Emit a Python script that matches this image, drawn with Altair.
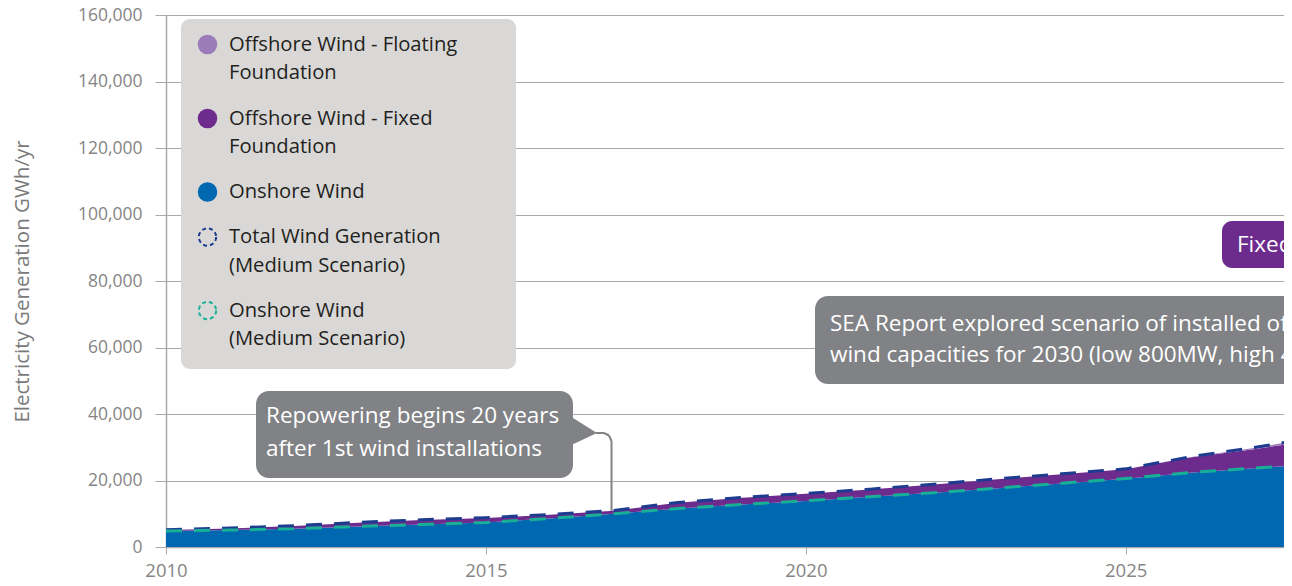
import altair as alt
import pandas as pd

# ---------------- data (GWh/yr, thousands) ----------------
years = list(range(2010, 2029))
onshore = [4.8, 5.1, 5.5, 6.2, 6.8, 7.4, 8.6, 10.0, 11.6, 12.8, 13.8, 15.1, 16.3, 17.7, 19.1, 20.5, 22.3, 23.7, 25.0]
offshore_fixed = [0.3, 0.5, 0.8, 1.1, 1.3, 1.3, 1.1, 0.9, 1.7, 2.0, 2.2, 2.2, 2.5, 2.7, 2.8, 2.9, 4.6, 5.7, 7.2]
offshore_floating = [0, 0, 0, 0, 0, 0, 0, 0, 0, 0, 0, 0, 0, 0, 0, 0, 0.1, 0.4, 0.8]
total_medium = [5.2, 5.7, 6.4, 7.4, 8.2, 8.8, 9.8, 11.0, 13.4, 14.9, 16.1, 17.4, 18.9, 20.5, 22.0, 23.5, 27.1, 29.9, 33.1]
onshore_medium = [4.8, 5.1, 5.5, 6.2, 6.8, 7.4, 8.6, 10.0, 11.6, 12.8, 13.9, 15.1, 16.3, 17.7, 19.2, 20.6, 22.4, 23.7, 25.0]

area_series = ["Onshore Wind", "Offshore Wind - Fixed Foundation", "Offshore Wind - Floating Foundation"]
area_colors = ["#0067b1", "#6d2b8e", "#a07dbd"]
line_series = ["Total Wind Generation (Medium Scenario)", "Onshore Wind (Medium Scenario)"]
line_colors = ["#1d3c8f", "#17b097"]

y_ticks = [0, 20000, 40000, 60000, 80000, 100000, 120000, 140000, 160000]
x_ticks = [2010, 2015, 2020, 2025]

legend_entries = [
    ("Offshore Wind - Floating", "Foundation", "#9b7bb8", "fill"),
    ("Offshore Wind - Fixed", "Foundation", "#6d2b8e", "fill"),
    ("Onshore Wind", None, "#0067b1", "fill"),
    ("Total Wind Generation", "(Medium Scenario)", "#1d3c8f", "dash"),
    ("Onshore Wind", "(Medium Scenario)", "#17b097", "dash"),
]

note_repower = ["Repowering begins 20 years", "after 1st wind installations"]
note_sea = ["SEA Report explored scenario of  installed offshore",
            "wind capacities for 2030 (low 800MW, high 4500MW)"]
note_fixed = "Fixed Foundation"

# ---------------- tables ----------------
series_vals = [onshore, offshore_fixed, offshore_floating]
area_rows = []
for k, name in enumerate(area_series):
    for i, yr in enumerate(years):
        area_rows.append({"year": yr, "series": name, "value": series_vals[k][i] * 1000, "ord": k})
area_df = pd.DataFrame(area_rows)

line_vals = [total_medium, onshore_medium]
line_rows = []
for k, name in enumerate(line_series):
    for i, yr in enumerate(years):
        line_rows.append({"year": yr, "series": name, "value": line_vals[k][i] * 1000})
line_df = pd.DataFrame(line_rows)

FONT = "Open Sans"
PL, PT = 166, 15  # plot origin on page (for pixel-placed annotations)
W, H = 1118, 532
PX_PER_YEAR = 63.98

xscale = alt.Scale(domain=[2010, 2010 + W / PX_PER_YEAR], nice=False, zero=False)
yscale = alt.Scale(domain=[0, 160000], nice=False)

x_axis = alt.Axis(values=x_ticks, format="d", grid=False, title=None,
                  tickSize=7, labelPadding=7, labelFlush=False, labelFontSize=18.5)
y_axis = alt.Axis(values=y_ticks, format=",", labelExpr="format(datum.value, ',')",
                  grid=True, tickSize=11, labelPadding=13, labelFlush=False,
                  labelFontSize=17.5,
                  title="Electricity Generation GWh/yr",
                  titleAngle=270, titleX=22 - PL, titleY=281 - PT,
                  titleAlign="center", titleBaseline="middle")

areas = alt.Chart(area_df).mark_area(clip=True, opacity=1).encode(
    x=alt.X("year:Q", scale=xscale, axis=x_axis),
    y=alt.Y("value:Q", stack="zero", scale=yscale, axis=y_axis),
    color=alt.Color("series:N", scale=alt.Scale(domain=area_series, range=area_colors), legend=None),
    order=alt.Order("ord:Q"),
)

line_layers = []
for name, col in zip(line_series, line_colors):
    line_layers.append(
        alt.Chart(line_df[line_df["series"] == name]).mark_line(
            clip=True, strokeDash=[16, 12], strokeWidth=3, color=col
        ).encode(x=alt.X("year:Q", scale=xscale),
                 y=alt.Y("value:Q", scale=yscale))
    )

one = alt.Data(values=[{}])


def px(v):
    return alt.value(v - PL)


def py(v):
    return alt.value(v - PT)


def rect(x1, x2, y1, y2, color, radius):
    return alt.Chart(one).mark_rect(color=color, cornerRadius=radius, opacity=1).encode(
        x=px(x1), x2=px(x2), y=py(y1), y2=py(y2))


def label(txt, x, y, size, color):
    return alt.Chart(one).mark_text(text=txt, align="left", baseline="middle", font=FONT,
                                    fontSize=size, color=color).encode(x=px(x), y=py(y))


def seg(x1, y1, x2, y2, color="#808285", w=2):
    return alt.Chart(one).mark_rule(color=color, strokeWidth=w).encode(
        x=px(x1), x2=px(x2), y=py(y1), y2=py(y2))


ann = []
# Legend box
ann.append(rect(181, 516, 19, 369, "#d9d8d6", 9))
leg_y = [44.5, 118.5, 192, 237, 310.5]
for (l1, l2, col, kind), yy in zip(legend_entries, leg_y):
    if kind == "fill":
        ann.append(alt.Chart(one).mark_point(shape="circle", filled=True, size=380, color=col,
                                             opacity=1).encode(x=px(207.5), y=py(yy)))
    else:
        ann.append(alt.Chart(one).mark_point(shape="circle", filled=False, size=300, color=col,
                                             strokeWidth=2, strokeDash=[4, 3], opacity=1
                                             ).encode(x=px(207.5), y=py(yy)))
    ann.append(label(l1, 229, yy, 20.2, "#231f20"))
    if l2:
        ann.append(label(l2, 229, yy + 28.7, 20.2, "#231f20"))

# Repowering callout
ann.append(rect(256, 573, 391, 478, "#808285", 13))
ann.append(alt.Chart(one).mark_point(shape="M-0.83,-1L0.94,0.11L-0.83,0.94Z", filled=True,
                                     size=1296, color="#808285", opacity=1, strokeWidth=0
                                     ).encode(x=px(580), y=py(431)))
ann.append(seg(596, 433, 604, 433))
ann.append(seg(604, 433, 609, 435.5))
ann.append(seg(609, 435.5, 611.5, 441))
ann.append(seg(611.5, 441, 611.5, 511))
ann.append(label(note_repower[0], 266, 416, 22.5, "white"))
ann.append(label(note_repower[1], 266, 449, 22.5, "white"))

# SEA callout
ann.append(rect(815, 1420, 296, 384, "#808285", 13))
ann.append(label(note_sea[0], 830, 324, 22.5, "white"))
ann.append(label(note_sea[1], 830, 355, 22.5, "white"))

# Fixed label
ann.append(rect(1222, 1420, 221, 268, "#6d2b8e", 10))
ann.append(label(note_fixed, 1237, 245, 22.5, "white"))

chart = alt.layer(areas, *line_layers, *ann).properties(
    width=W, height=H,
    autosize=alt.AutoSizeParams(type="none"),
    padding={"left": PL - 8, "top": PT - 8, "right": 0, "bottom": 38},
).configure_view(strokeWidth=0).configure(background="white").configure_axis(
    gridColor="#a7a9ac", gridWidth=1, tickColor="#a7a9ac", domainColor="#a7a9ac",
    domainWidth=1.5, labelFont=FONT, labelColor="#858585",
    titleFont=FONT, titleFontSize=20.5, titleFontWeight="normal", titleColor="#7a7a7a",
)

chart.save("out.html", embed_options={"renderer": "svg", "actions": False})
